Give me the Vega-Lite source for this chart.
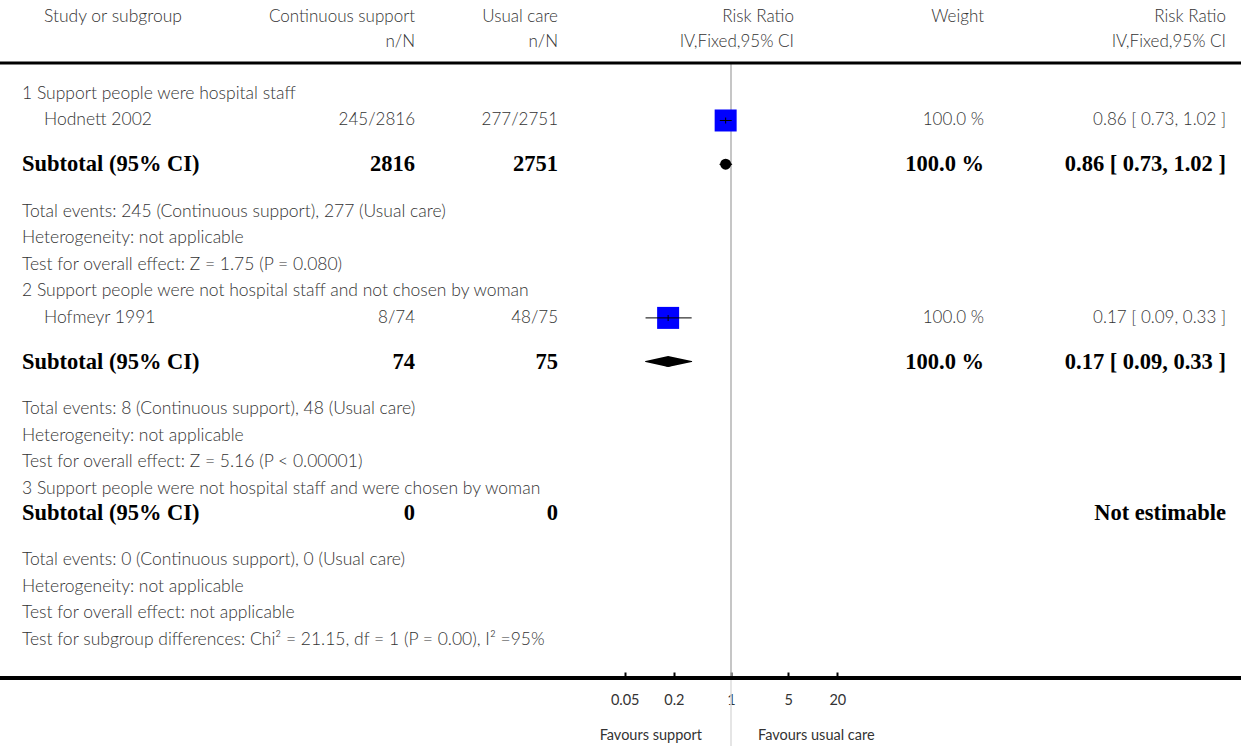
{
  "$schema": "https://vega.github.io/schema/vega-lite/v6.json",
  "width": 1241,
  "height": 678,
  "autosize": {"type": "none"},
  "padding": {"left": 0, "top": 0, "right": 0, "bottom": 68},
  "background": "white",
  "config": {"view": {"stroke": null}},
  "datasets": {
    "cells": [
      {"r": -2.9, "c": 1, "t": "Study or subgroup", "type": "header"},
      {"r": -2.9, "c": 2, "t": "Continuous support", "type": "header"},
      {"r": -1.95, "c": 2, "t": "n/N", "type": "header"},
      {"r": -2.9, "c": 3, "t": "Usual care", "type": "header"},
      {"r": -1.95, "c": 3, "t": "n/N", "type": "header"},
      {"r": -2.9, "c": 4, "t": "Risk Ratio", "type": "header"},
      {"r": -1.95, "c": 4, "t": "IV,Fixed,95% CI", "type": "header"},
      {"r": -2.9, "c": 5, "t": "Weight", "type": "header"},
      {"r": -2.9, "c": 6, "t": "Risk Ratio", "type": "header"},
      {"r": -1.95, "c": 6, "t": "IV,Fixed,95% CI", "type": "header"},
      {"r": 0, "c": 0, "t": "1 Support people were hospital staff", "type": "group"},
      {"r": 1, "c": 1, "t": "Hodnett 2002", "type": "study"},
      {"r": 1, "c": 2, "t": "245/2816", "type": "study"},
      {"r": 1, "c": 3, "t": "277/2751", "type": "study"},
      {"r": 1, "c": 5, "t": "100.0 %", "type": "study"},
      {"r": 1, "c": 6, "t": "0.86 [ 0.73, 1.02 ]", "type": "study"},
      {"r": 2.65, "c": 0, "t": "Subtotal (95% CI)", "type": "subtotal"},
      {"r": 2.65, "c": 2, "t": "2816", "type": "subtotal"},
      {"r": 2.65, "c": 3, "t": "2751", "type": "subtotal"},
      {"r": 2.65, "c": 5, "t": "100.0 %", "type": "subtotal"},
      {"r": 2.65, "c": 6, "t": "0.86 [ 0.73, 1.02 ]", "type": "subtotal"},
      {"r": 4.45, "c": 0, "t": "Total events: 245 (Continuous support), 277 (Usual care)", "type": "note"},
      {"r": 5.45, "c": 0, "t": "Heterogeneity: not applicable", "type": "note"},
      {"r": 6.45, "c": 0, "t": "Test for overall effect: Z = 1.75 (P = 0.080)", "type": "note"},
      {"r": 7.45, "c": 0, "t": "2 Support people were not hospital staff and not chosen by woman", "type": "group"},
      {"r": 8.45, "c": 1, "t": "Hofmeyr 1991", "type": "study"},
      {"r": 8.45, "c": 2, "t": "8/74", "type": "study"},
      {"r": 8.45, "c": 3, "t": "48/75", "type": "study"},
      {"r": 8.45, "c": 5, "t": "100.0 %", "type": "study"},
      {"r": 8.45, "c": 6, "t": "0.17 [ 0.09, 0.33 ]", "type": "study"},
      {"r": 10.1, "c": 0, "t": "Subtotal (95% CI)", "type": "subtotal"},
      {"r": 10.1, "c": 2, "t": "74", "type": "subtotal"},
      {"r": 10.1, "c": 3, "t": "75", "type": "subtotal"},
      {"r": 10.1, "c": 5, "t": "100.0 %", "type": "subtotal"},
      {"r": 10.1, "c": 6, "t": "0.17 [ 0.09, 0.33 ]", "type": "subtotal"},
      {"r": 11.9, "c": 0, "t": "Total events: 8 (Continuous support), 48 (Usual care)", "type": "note"},
      {"r": 12.9, "c": 0, "t": "Heterogeneity: not applicable", "type": "note"},
      {"r": 13.9, "c": 0, "t": "Test for overall effect: Z = 5.16 (P < 0.00001)", "type": "note"},
      {"r": 14.9, "c": 0, "t": "3 Support people were not hospital staff and were chosen by woman", "type": "group"},
      {"r": 15.8, "c": 0, "t": "Subtotal (95% CI)", "type": "subtotal"},
      {"r": 15.8, "c": 2, "t": "0", "type": "subtotal"},
      {"r": 15.8, "c": 3, "t": "0", "type": "subtotal"},
      {"r": 15.8, "c": 6, "t": "Not estimable", "type": "subtotal"},
      {"r": 17.6, "c": 0, "t": "Total events: 0 (Continuous support), 0 (Usual care)", "type": "note"},
      {"r": 18.6, "c": 0, "t": "Heterogeneity: not applicable", "type": "note"},
      {"r": 19.6, "c": 0, "t": "Test for overall effect: not applicable", "type": "note"},
      {"r": 20.6, "c": 0, "t": "Test for subgroup differences: Chi² = 21.15, df = 1 (P = 0.00), I² =95%", "type": "note"}
    ],
    "forest": [
      {"r": 1, "est": 0.86, "lo": 0.73, "hi": 1.02, "kind": "study"},
      {"r": 2.65, "est": 0.86, "lo": 0.73, "hi": 1.02, "kind": "subtotal"},
      {"r": 8.45, "est": 0.17, "lo": 0.09, "hi": 0.33, "kind": "study"},
      {"r": 10.1, "est": 0.17, "lo": 0.09, "hi": 0.33, "kind": "subtotal"}
    ],
    "favours": [
      {"r": 24.23, "side": "left", "t": "Favours support"},
      {"r": 24.23, "side": "right", "t": "Favours usual care"}
    ]
  },
  "layer": [
    {
      "layer": [
        {
          "data": {"values": [{}]},
          "mark": {"type": "rule", "color": "#b3b3b3", "strokeWidth": 1.5},
          "encoding": {
            "x": {"datum": 1, "type": "quantitative", "scale": {"type": "log", "domain": [0.01, 100], "range": [567.6, 894.4], "nice": false},
              "axis": {"values": [0.05, 0.2, 1, 5, 20], "format": "~g", "domain": false, "grid": false, "tickSize": -6, "tickWidth": 2, "tickColor": "black", "labelFont": "Lato", "labelFontSize": 14.5, "labelColor": "#333333", "labelPadding": 21, "labelBaseline": "top", "title": null}},
            "y": {"datum": -1.13, "type": "quantitative", "scale": {"domain": [-3.547, 22.04], "reverse": true, "nice": false, "zero": false}, "axis": null},
            "y2": {"datum": 22.04}
          }
        },
        {
          "data": {"values": [{}]},
          "mark": {"type": "rule", "color": "#dcdcdc", "strokeWidth": 1.5},
          "encoding": {
            "x": {"datum": 1, "type": "quantitative", "scale": {"type": "log", "domain": [0.01, 100], "range": [567.6, 894.4], "nice": false}},
            "y": {"datum": 22.04, "type": "quantitative", "scale": {"domain": [-3.547, 22.04], "reverse": true, "nice": false, "zero": false}, "axis": null},
            "y2": {"datum": 24.7}
          }
        },
        {
          "data": {"name": "forest"},
          "transform": [{"filter": "datum.kind == 'study'"}],
          "mark": {"type": "point", "shape": "square", "filled": true, "size": 484, "color": "#0000ff", "opacity": 1, "strokeWidth": 0},
          "encoding": {
            "x": {"field": "est", "type": "quantitative", "scale": {"type": "log", "domain": [0.01, 100], "range": [567.6, 894.4], "nice": false}},
            "y": {"field": "r", "type": "quantitative", "scale": {"domain": [-3.547, 22.04], "reverse": true, "nice": false, "zero": false}, "axis": null}
          }
        },
        {
          "data": {"name": "forest"},
          "transform": [{"filter": "datum.kind == 'study'"}],
          "mark": {"type": "rule", "color": "black", "strokeWidth": 1},
          "encoding": {
            "x": {"field": "lo", "type": "quantitative", "scale": {"type": "log", "domain": [0.01, 100], "range": [567.6, 894.4], "nice": false}},
            "x2": {"field": "hi"},
            "y": {"field": "r", "type": "quantitative", "scale": {"domain": [-3.547, 22.04], "reverse": true, "nice": false, "zero": false}, "axis": null}
          }
        },
        {
          "data": {"name": "forest"},
          "transform": [{"filter": "datum.kind == 'study'"}],
          "mark": {"type": "tick", "orient": "vertical", "size": 6, "thickness": 1, "color": "black", "opacity": 1},
          "encoding": {
            "x": {"field": "est", "type": "quantitative", "scale": {"type": "log", "domain": [0.01, 100], "range": [567.6, 894.4], "nice": false}},
            "y": {"field": "r", "type": "quantitative", "scale": {"domain": [-3.547, 22.04], "reverse": true, "nice": false, "zero": false}, "axis": null}
          }
        },
        {
          "data": {"name": "forest"},
          "transform": [{"filter": "datum.kind == 'subtotal'"}, {"fold": ["lo", "est", "hi"], "as": ["k", "v"]}],
          "mark": {"type": "trail", "color": "black"},
          "encoding": {
            "x": {"field": "v", "type": "quantitative", "scale": {"type": "log", "domain": [0.01, 100], "range": [567.6, 894.4], "nice": false}},
            "y": {"field": "r", "type": "quantitative", "scale": {"domain": [-3.547, 22.04], "reverse": true, "nice": false, "zero": false}, "axis": null},
            "size": {"field": "k", "type": "nominal", "scale": {"type": "ordinal", "domain": ["lo", "est", "hi"], "range": [0, 11, 0]}, "legend": null},
            "detail": {"field": "r", "type": "nominal"},
            "order": {"field": "v", "type": "quantitative"}
          }
        },
        {
          "data": {"name": "favours"},
          "transform": [{"filter": "datum.side == 'left'"}],
          "mark": {"type": "text", "align": "right", "baseline": "middle", "dx": -29, "font": "Lato", "fontSize": 14.5, "color": "#333333"},
          "encoding": {
            "x": {"datum": 1, "type": "quantitative", "scale": {"type": "log", "domain": [0.01, 100], "range": [567.6, 894.4], "nice": false}},
            "y": {"field": "r", "type": "quantitative", "scale": {"domain": [-3.547, 22.04], "reverse": true, "nice": false, "zero": false}, "axis": null},
            "text": {"field": "t"}
          }
        },
        {
          "data": {"name": "favours"},
          "transform": [{"filter": "datum.side == 'right'"}],
          "mark": {"type": "text", "align": "left", "baseline": "middle", "dx": 27, "font": "Lato", "fontSize": 14.5, "color": "#333333"},
          "encoding": {
            "x": {"datum": 1, "type": "quantitative", "scale": {"type": "log", "domain": [0.01, 100], "range": [567.6, 894.4], "nice": false}},
            "y": {"field": "r", "type": "quantitative", "scale": {"domain": [-3.547, 22.04], "reverse": true, "nice": false, "zero": false}, "axis": null},
            "text": {"field": "t"}
          }
        }
      ]
    },
    {
      "data": {"name": "cells"},
      "layer": [
        {
          "transform": [{"filter": "datum.c < 2 && datum.type != 'subtotal'"}],
          "mark": {"type": "text", "align": "left", "baseline": "middle", "font": "Lato", "fontSize": 17.5, "fontWeight": 300, "color": "#333333"},
          "encoding": {
            "x": {"field": "c", "type": "quantitative", "scale": {"domain": [0, 1, 2, 3, 4, 5, 6], "range": [22, 44, 415, 558, 794, 984, 1226]}, "axis": null},
            "y": {"field": "r", "type": "quantitative", "scale": {"domain": [-3.547, 22.04], "reverse": true, "nice": false, "zero": false}, "axis": null},
            "text": {"field": "t"}
          }
        },
        {
          "transform": [{"filter": "datum.c >= 2 && datum.type != 'subtotal'"}],
          "mark": {"type": "text", "align": "right", "baseline": "middle", "font": "Lato", "fontSize": 17, "fontWeight": 300, "color": "#333333"},
          "encoding": {
            "x": {"field": "c", "type": "quantitative", "scale": {"domain": [0, 1, 2, 3, 4, 5, 6], "range": [22, 44, 415, 558, 794, 984, 1226]}, "axis": null},
            "y": {"field": "r", "type": "quantitative", "scale": {"domain": [-3.547, 22.04], "reverse": true, "nice": false, "zero": false}, "axis": null},
            "text": {"field": "t"}
          }
        },
        {
          "transform": [{"filter": "datum.c < 2 && datum.type == 'subtotal'"}],
          "mark": {"type": "text", "align": "left", "baseline": "middle", "font": "Liberation Serif", "fontSize": 22.5, "fontWeight": "bold", "color": "black"},
          "encoding": {
            "x": {"field": "c", "type": "quantitative", "scale": {"domain": [0, 1, 2, 3, 4, 5, 6], "range": [22, 44, 415, 558, 794, 984, 1226]}, "axis": null},
            "y": {"field": "r", "type": "quantitative", "scale": {"domain": [-3.547, 22.04], "reverse": true, "nice": false, "zero": false}, "axis": null},
            "text": {"field": "t"}
          }
        },
        {
          "transform": [{"filter": "datum.c >= 2 && datum.type == 'subtotal'"}],
          "mark": {"type": "text", "align": "right", "baseline": "middle", "font": "Liberation Serif", "fontSize": 22.5, "fontWeight": "bold", "color": "black"},
          "encoding": {
            "x": {"field": "c", "type": "quantitative", "scale": {"domain": [0, 1, 2, 3, 4, 5, 6], "range": [22, 44, 415, 558, 794, 984, 1226]}, "axis": null},
            "y": {"field": "r", "type": "quantitative", "scale": {"domain": [-3.547, 22.04], "reverse": true, "nice": false, "zero": false}, "axis": null},
            "text": {"field": "t"}
          }
        }
      ]
    },
    {
      "data": {"values": [{}]},
      "mark": {"type": "rule", "color": "black", "strokeWidth": 3},
      "encoding": {
        "y": {"datum": -1.17, "type": "quantitative", "scale": {"domain": [-3.547, 22.04], "reverse": true, "nice": false, "zero": false}, "axis": null}
      }
    },
    {
      "data": {"values": [{}]},
      "mark": {"type": "rule", "color": "black", "strokeWidth": 4},
      "encoding": {
        "y": {"datum": 22.04, "type": "quantitative", "scale": {"domain": [-3.547, 22.04], "reverse": true, "nice": false, "zero": false}, "axis": null}
      }
    }
  ],
  "resolve": {"scale": {"x": "independent"}}
}
